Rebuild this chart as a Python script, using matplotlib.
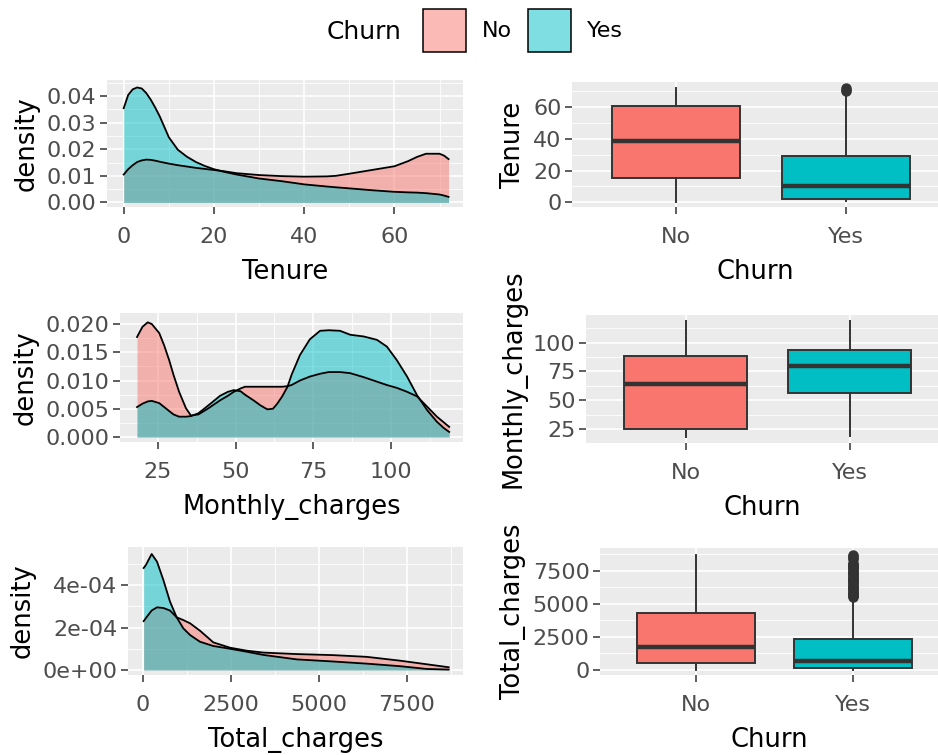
import numpy as np
import matplotlib
matplotlib.use('Agg')
import matplotlib.pyplot as plt
from matplotlib.patches import Patch
from matplotlib.colors import to_rgba
from matplotlib.ticker import MultipleLocator, FormatStrFormatter, FuncFormatter

plt.rcParams['font.family'] = ['DejaVu Sans']

red = '#F8766D'
teal = '#00BFC4'
bg = '#EBEBEB'
dark = '#333333'

churn = ['No', 'Yes']

# density curves
ten_x = [0, 1, 2, 3, 4, 5, 6, 7, 8, 10, 12, 14, 16, 18, 20, 22, 25, 30, 35, 40,
         45, 47, 50, 55, 60, 63, 65, 67, 70, 71, 72]
ten_yes = [0.0354, 0.0404, 0.0425, 0.0432, 0.0428, 0.0411, 0.0386, 0.0356, 0.0323, 0.0245,
           0.0198, 0.0172, 0.0152, 0.0137, 0.0125, 0.0116, 0.0105, 0.0090, 0.0080, 0.0068,
           0.0060, 0.0057, 0.0053, 0.0046, 0.0040, 0.0038, 0.0037, 0.0035, 0.0030, 0.0026, 0.0021]
ten_no = [0.0105, 0.0125, 0.0140, 0.0152, 0.0158, 0.0161, 0.0160, 0.0157, 0.0153, 0.0146,
          0.0140, 0.0135, 0.0130, 0.0126, 0.0122, 0.0118, 0.0110, 0.0103, 0.0099, 0.0097,
          0.0098, 0.0100, 0.0108, 0.0122, 0.0136, 0.0155, 0.0171, 0.0183, 0.0183, 0.0176, 0.0163]

mon_x = [18.25, 20, 21.7, 23, 25.4, 27, 28.6, 30, 31.8, 34, 35.6, 38, 41, 45, 47.5, 49.4,
         51.6, 53, 56, 58, 60.2, 62, 63.4, 65, 66.7, 68, 70.7, 73.9, 77.2, 80, 83.6, 86.9,
         91.2, 95.5, 98.7, 101.9, 105.2, 108.4, 111.6, 114.8, 117, 118.75]
mon_yes = [0.0053, 0.0059, 0.0063, 0.0064, 0.0060, 0.0053, 0.0046, 0.0040, 0.0036, 0.0036,
           0.0037, 0.0042, 0.0055, 0.0073, 0.0080, 0.0083, 0.0081, 0.0075, 0.0064, 0.0056,
           0.0049, 0.0050, 0.0059, 0.0072, 0.0089, 0.0110, 0.0145, 0.0173, 0.0188, 0.0189,
           0.0188, 0.0181, 0.0178, 0.0172, 0.0160, 0.0136, 0.0107, 0.0074, 0.0048, 0.0027,
           0.0016, 0.0009]
mon_no = [0.0177, 0.0195, 0.0203, 0.0200, 0.0184, 0.0162, 0.0136, 0.0110, 0.0080, 0.0051,
          0.0038, 0.0040, 0.0050, 0.0065, 0.0073, 0.0080, 0.0086, 0.0089, 0.0089, 0.0089,
          0.0089, 0.0089, 0.0089, 0.0089, 0.0090, 0.0092, 0.0100, 0.0107, 0.0112, 0.0115,
          0.0115, 0.0113, 0.0106, 0.0098, 0.0092, 0.0087, 0.0080, 0.0072, 0.0054, 0.0036,
          0.0026, 0.0018]

tot_x = [18.8, 85, 246, 398, 578, 767, 956, 1146, 1335, 1619, 1998, 2472, 2946, 3419,
         4366, 5410, 6350, 7300, 8060, 8684.8]
tot_yes = [4.80e-4, 4.95e-4, 5.46e-4, 5.10e-4, 4.24e-4, 3.22e-4, 2.48e-4, 1.96e-4, 1.65e-4, 1.33e-4,
           1.13e-4, 1.00e-4, 0.86e-4, 0.71e-4, 0.50e-4, 0.40e-4, 0.30e-4, 0.18e-4, 0.05e-4, 0.02e-4]
tot_no = [2.30e-4, 2.45e-4, 2.80e-4, 2.95e-4, 2.92e-4, 2.80e-4, 2.48e-4, 2.35e-4, 2.20e-4, 1.85e-4,
          1.30e-4, 1.05e-4, 0.91e-4, 0.82e-4, 0.75e-4, 0.70e-4, 0.62e-4, 0.44e-4, 0.27e-4, 0.13e-4]

# boxplot summaries (whislo, q1, med, q3, whishi) per churn group
ten_box = [[0, 15.5, 38.5, 61, 72], [1, 2, 10, 29, 69]]
ten_out = [[], [70, 71, 72]]
mon_box = [[18.25, 25, 64.5, 88.3, 118.75], [18.85, 56.2, 79.6, 93.6, 118.35]]
mon_out = [[], []]
tot_box = [[18.8, 520, 1720, 4270, 8672], [18.85, 134, 704, 2331, 5470]]
tot_out = [[], [5510, 5570, 5655, 5740, 5830, 5915, 6010, 6095, 6180, 6270, 6365, 6440, 6540,
                6625, 6710, 6800, 6890, 6975, 7060, 7150, 7240, 7330, 7420, 7510, 7600, 7690,
                7780, 7860, 7950, 8040, 8110, 8400, 8480, 8580, 8685]]

fig = plt.figure(figsize=(9.38, 7.55), dpi=100)


def style(ax):
    ax.set_facecolor(bg)
    for s in ax.spines.values():
        s.set_visible(False)
    ax.set_axisbelow(True)
    ax.grid(which='major', color='white', lw=1.2)
    ax.grid(which='minor', color='white', lw=0.6)
    ax.tick_params(which='major', length=5, width=1.1, color=dark, labelcolor='#4D4D4D',
                   labelsize=16)
    ax.tick_params(axis='x', which='major', pad=9.5)
    ax.tick_params(axis='y', which='major', pad=2.5)
    ax.tick_params(which='minor', length=0)


def density(ax, x, no, yes):
    ax.fill_between(x, 0, no, color=red, alpha=0.5, lw=0)
    ax.plot(x, no, color='black', lw=1.3)
    ax.fill_between(x, 0, yes, color=teal, alpha=0.5, lw=0)
    ax.plot(x, yes, color='black', lw=1.3)
    ax.set_ylabel('density', fontsize=18.5, labelpad=5)


def boxes(ax, box, out, label):
    stats = []
    for i in range(2):
        b = box[i]
        stats.append(dict(whislo=b[0], q1=b[1], med=b[2], q3=b[3], whishi=b[4], fliers=out[i]))
    parts = ax.bxp(stats, positions=[1, 2], widths=0.75, patch_artist=True, showcaps=False,
                   boxprops=dict(edgecolor=dark, lw=1.4),
                   whiskerprops=dict(color=dark, lw=1.4),
                   medianprops=dict(color=dark, lw=3.2),
                   flierprops=dict(marker='o', markerfacecolor=dark, markeredgecolor=dark,
                                   markersize=6.5))
    for patch, c in zip(parts['boxes'], [red, teal]):
        patch.set_facecolor(c)
    ax.set_xticks([1, 2])
    ax.set_xticklabels(churn)
    ax.set_xlim(0.39, 2.54)
    ax.set_xlabel('Churn', fontsize=18.5, labelpad=8.5)
    ax.set_ylabel(label, fontsize=18.5, labelpad=5)


# Tenure density
ax1 = fig.add_axes([107 / 938, 1 - 207 / 755, 356 / 938, 127 / 755])
style(ax1)
density(ax1, ten_x, ten_no, ten_yes)
ax1.set_xlim(-3.7, 75.2)
ax1.set_ylim(-0.0017, 0.0460)
ax1.xaxis.set_major_locator(MultipleLocator(20))
ax1.xaxis.set_minor_locator(MultipleLocator(10))
ax1.yaxis.set_major_locator(MultipleLocator(0.01))
ax1.yaxis.set_minor_locator(MultipleLocator(0.005))
ax1.yaxis.set_major_formatter(FormatStrFormatter('%.2f'))
ax1.set_xlabel('Tenure', fontsize=18.5, labelpad=8.5)

# Tenure boxplot
ax2 = fig.add_axes([572 / 938, 1 - 207 / 755, 366 / 938, 125 / 755])
style(ax2)
boxes(ax2, ten_box, ten_out, 'Tenure')
ax2.set_ylim(-3, 76)
ax2.yaxis.set_major_locator(MultipleLocator(20))
ax2.yaxis.set_minor_locator(MultipleLocator(10))

# Monthly charges density
ax3 = fig.add_axes([120 / 938, 1 - 442 / 755, 343 / 938, 129 / 755])
style(ax3)
density(ax3, mon_x, mon_no, mon_yes)
ax3.set_xlim(12.77, 123.2)
ax3.set_ylim(-0.00088, 0.02195)
ax3.xaxis.set_major_locator(MultipleLocator(25))
ax3.xaxis.set_minor_locator(MultipleLocator(12.5))
ax3.yaxis.set_major_locator(MultipleLocator(0.005))
ax3.yaxis.set_minor_locator(MultipleLocator(0.0025))
ax3.yaxis.set_major_formatter(FormatStrFormatter('%.3f'))
ax3.set_xlabel('Monthly_charges', fontsize=18.5, labelpad=8.5)

# Monthly charges boxplot
ax4 = fig.add_axes([586 / 938, 1 - 443 / 755, 352 / 938, 128 / 755])
style(ax4)
boxes(ax4, mon_box, mon_out, 'Monthly_charges')
ax4.set_ylim(13.2, 123.8)
ax4.yaxis.set_major_locator(MultipleLocator(25))
ax4.yaxis.set_minor_locator(MultipleLocator(12.5))

# Total charges density
ax5 = fig.add_axes([128 / 938, 1 - 675 / 755, 335 / 938, 128 / 755])
style(ax5)
density(ax5, tot_x, tot_no, tot_yes)
ax5.set_xlim(-426, 9091)
ax5.set_ylim(-0.235e-4, 5.79e-4)
ax5.xaxis.set_major_locator(MultipleLocator(2500))
ax5.xaxis.set_minor_locator(MultipleLocator(1250))
ax5.yaxis.set_major_locator(MultipleLocator(2e-4))
ax5.yaxis.set_minor_locator(MultipleLocator(1e-4))
ax5.yaxis.set_major_formatter(FuncFormatter(lambda v, p: f'{v:.0e}'))
ax5.set_xlabel('Total_charges', fontsize=18.5, labelpad=8.5)

# Total charges boxplot
ax6 = fig.add_axes([600 / 938, 1 - 675 / 755, 338 / 938, 127 / 755])
style(ax6)
boxes(ax6, tot_box, tot_out, 'Total_charges')
ax6.set_ylim(-378, 9214)
ax6.yaxis.set_major_locator(MultipleLocator(2500))
ax6.yaxis.set_minor_locator(MultipleLocator(1250))

# legend on top
fig.text(327 / 938, 1 - 32 / 755, 'Churn', fontsize=18, va='center', ha='left')
handles = [Patch(facecolor=to_rgba(red, 0.5), edgecolor='black', lw=1.1),
           Patch(facecolor=to_rgba(teal, 0.5), edgecolor='black', lw=1.1)]
fig.legend(handles, churn, loc='center left', bbox_to_anchor=(423 / 938, 1 - 30 / 755),
           ncol=2, frameon=False, fontsize=16, handlelength=1.94, handleheight=2.6,
           handletextpad=0.72, columnspacing=0.72, borderpad=0, borderaxespad=0)

fig.savefig('out.png', dpi=100)
